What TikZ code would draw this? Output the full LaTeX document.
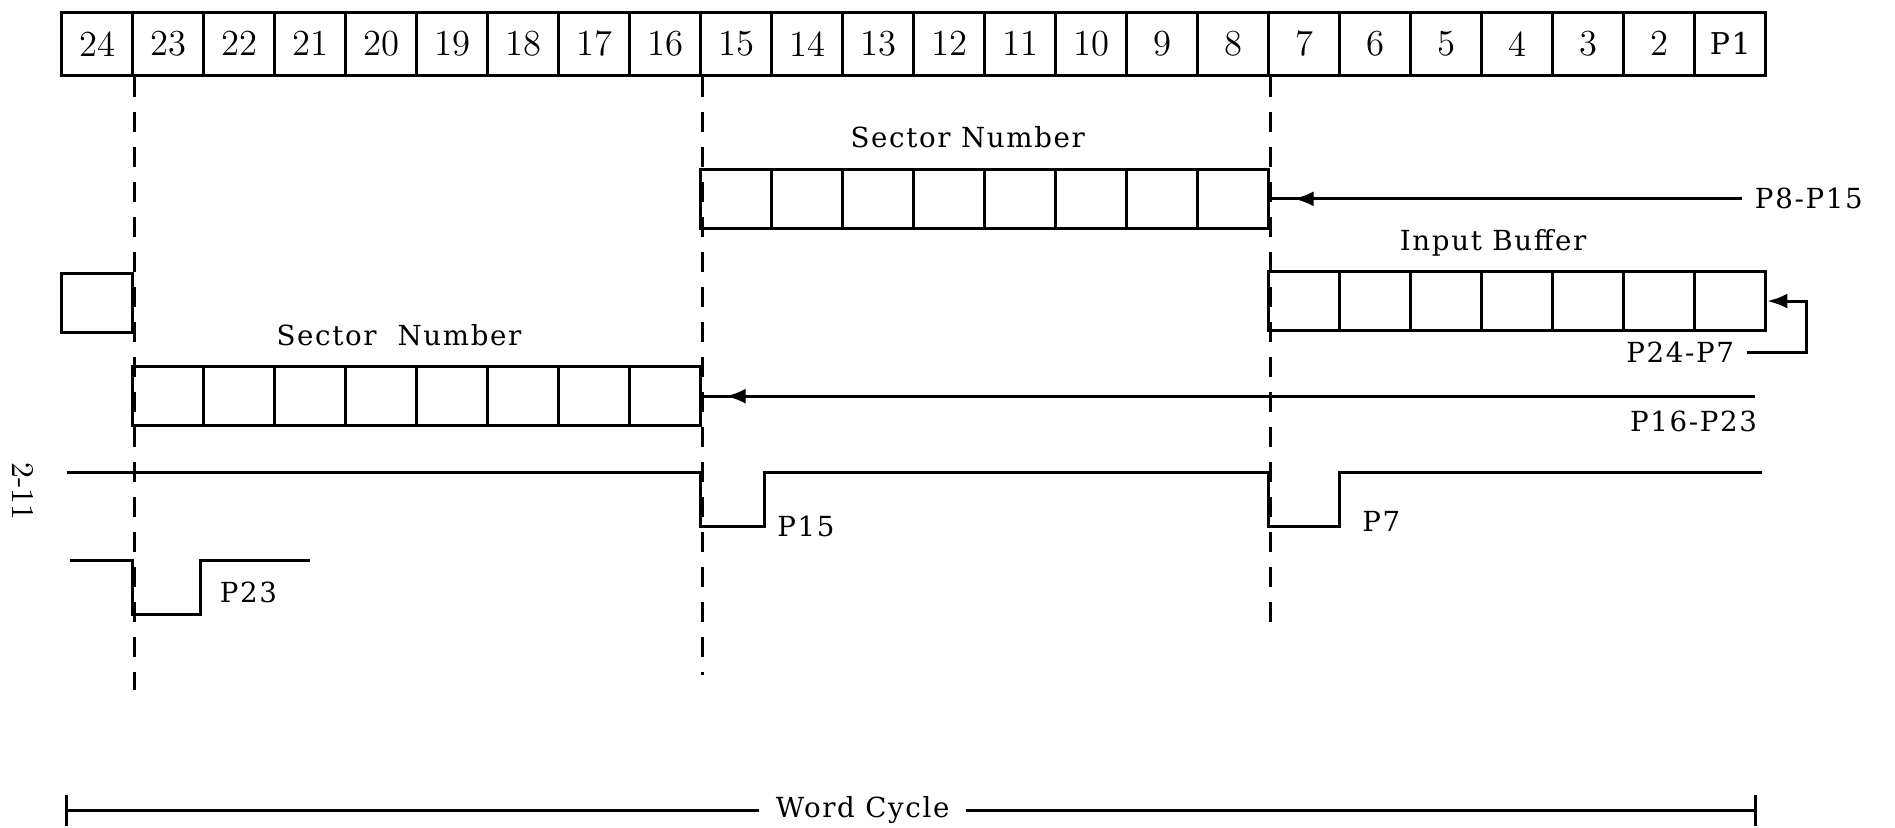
\documentclass[tikz,border=0pt]{standalone}
\usepackage{fontspec}
\newfontfamily\labelfont[LetterSpace=6]{DejaVu Serif}
\usetikzlibrary{arrows.meta,positioning,decorations.markings}

\begin{document}
\begin{tikzpicture}[x=21.3pt,y=21.3pt,line width=0.9pt]
  \tikzset{bitcell/.style = {shape=rectangle,draw,minimum width=21.3pt,minimum height=19pt,inner sep=0pt,font=\fontsize{11}{13}\selectfont}}
  \tikzset{regcell/.style = {shape=rectangle,draw,minimum width=21.3pt,minimum height=17.6pt,inner sep=0pt}}
  \tikzset{lbl/.style = {font=\labelfont\fontsize{8.3}{10}\selectfont}}
  \tikzset{guide/.style = {dash pattern=on 6pt off 4.5pt,line width=0.8pt}}
  \tikzset{%
  tipA/.tip={Latex[length=6pt,width=4.5pt]},
}
  \tikzset{inarrow/.style = {postaction={decorate},decoration={markings,mark=at position -7pt with {\arrow{tipA}}}}}

  \useasboundingbox (0,0) rectangle (26.69,-11.648);

	% bit positions of the word
	\foreach \i in {0,...,22}{
	  \pgfmathtruncatemacro{\bit}{24-\i}
	  \node[bitcell] (top\i) at (1.37+\i,-0.615) {\bit};
	}
	\node[bitcell,font=\labelfont\fontsize{9}{11}\selectfont] (top23) at (24.37,-0.615) {P1};

	% registers
	\foreach \i in {0,...,7}
	  \node[regcell] (secA\i) at (10.37+\i,-2.80) {};
	\foreach \i in {0,...,6}
	  \node[regcell] (buf\i) at (18.37+\i,-4.24) {};
	\foreach \i in {0,...,7}
	  \node[regcell] (secB\i) at (2.37+\i,-5.58) {};
	\node[regcell] (spare) at (1.37,-4.27) {};

	\node[lbl] (secAname) at (13.63,-1.93) {Sector Number};
	\node[lbl] (bufname) at (21.03,-3.42) {Input Buffer};
	\node[lbl] (secBname) at (5.62,-4.72) {Sector\ \ Number};

	% sources
	\node[lbl,anchor=west] (srcA) at (24.54,-2.80) {P8-P15};
	\coordinate (srcB) at (24.72,-5.58);
	\node[lbl,anchor=north east,inner sep=1pt] (srcBname) at ([xshift=2pt,yshift=-3pt]srcB) {P16-P23};
	\node[lbl,anchor=east] (srcC) at (24.6,-4.96) {P24-P7};

	\draw[inarrow] (srcA.west) -- (secA7.east);
	\draw[inarrow] (srcB) -- (secB7.east);
	\draw[-tipA] (srcC.east) -- ++(0.84,0) |- (buf6.east);

	% bit time guides
	\draw[guide] (top0.south east) -- ++(0,-8.64);
	\draw[guide] (top8.south east) -- ++(0,-8.43);
	\draw[guide] (top16.south east) -- ++(0,-7.79);

	% pulses
	\draw (0.94,-6.65) -- (9.87,-6.65) -- (9.87,-7.42) -- (10.77,-7.42)
	  node[lbl,anchor=west] (p15) {P15}
	  -- (10.77,-6.65) -- (17.87,-6.65) -- (17.87,-7.42) -- (18.87,-7.42)
	  node[lbl,anchor=west,xshift=3pt,yshift=1.5pt] (p7) {P7}
	  -- (18.87,-6.65) -- (24.82,-6.65);
	\draw (0.99,-7.89) -- (1.87,-7.89) -- (1.87,-8.66) -- (2.82,-8.66) -- (2.82,-7.89) -- (4.37,-7.89);
	\node[lbl,anchor=west] (p23) at (2.92,-8.34) {P23};

	\node[rotate=-90,font=\fontsize{9.5}{11}\selectfont] (pageno) at (0.33,-6.92) {2-11};

	% word cycle
	\coordinate (wcL) at (0.94,-11.41);
	\coordinate (wcR) at (24.72,-11.41);
	\node[lbl,inner sep=4.5pt] (wc) at (12.15,-11.41) {Word Cycle};
	\draw (wc.west) -- (wcL) ++(0,0.22) -- ++(0,-0.44);
	\draw (wc.east) -- (wcR) ++(0,0.22) -- ++(0,-0.44);

\end{tikzpicture}
\end{document}
